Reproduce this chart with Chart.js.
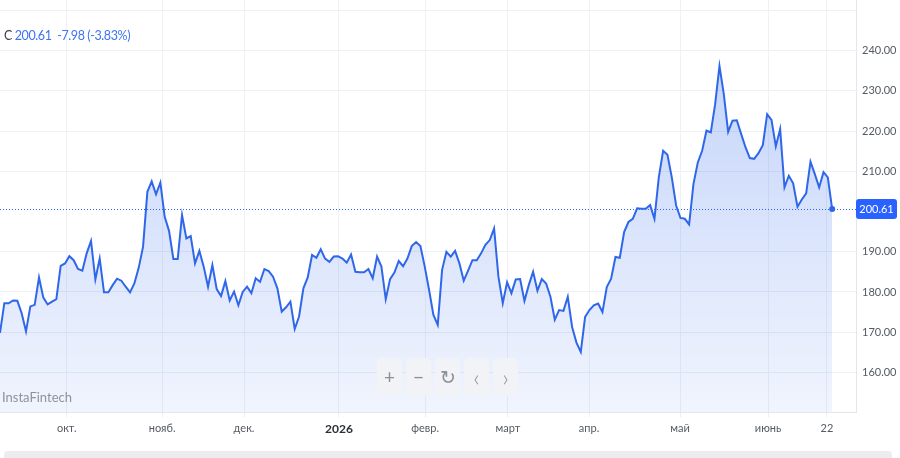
<!DOCTYPE html>
<html>
<head>
<meta charset="utf-8">
<script src="https://cdn.jsdelivr.net/npm/chart.js@4/dist/chart.umd.min.js"></script>
<style>
  html, body { margin: 0; padding: 0; background: #fff; }
  #wrap { position: relative; width: 900px; height: 458px; overflow: hidden; font-family: Lato, "Noto Sans", sans-serif; }
  #c { position: absolute; left: 0; top: 0; }
  #head { position: absolute; left: 4px; top: 28px; font-size: 12.5px; letter-spacing: -0.4px; color: #3a3f4a; white-space: pre; }
  #head span { color: #3d74f0; }
  #mark { position: absolute; left: 2px; top: 389px; font-size: 13px; color: #8d929c; }
  #btns { position: absolute; left: 377px; top: 358px; display: flex; gap: 4px; }
  #btns div { width: 25px; height: 38px; border-radius: 5px; background: #f1f3f6; color: #8a8f98;
              font-size: 19px; line-height: 38px; text-align: center; }
  #btns div.ch { font-size: 24px; font-weight: 300; }
  #foot { position: absolute; left: 4px; top: 451px; width: 888px; height: 10px; border-radius: 4px; background: #ececee; }
</style>
</head>
<body>
<div id="wrap">
  <canvas id="c" width="900" height="458"></canvas>
  <div id="head">C <span>200.61  -7.98 (-3.83%)</span></div>
  <div id="mark">InstaFintech</div>
  <div id="btns"><div>+</div><div>&minus;</div><div>&#8635;</div><div class="ch">&#8249;</div><div class="ch">&#8250;</div></div>
  <div id="foot"></div>
</div>
<script>
// daily closes, one per trading day
var closes = [
  169.8, 177.2, 177.2, 177.9, 177.8, 174.7, 170.2, 176.4, 176.8, 183.6,
  178.6, 176.9, 177.6, 178.2, 186.5, 187.1, 188.9, 187.9, 185.7, 185.3,
  189.6, 192.7, 183.1, 188.3, 179.9, 179.9, 181.7, 183.3, 182.8, 181.3,
  179.9, 182.1, 186.0, 191.2, 204.9, 207.5, 204.3, 207.2, 198.7, 195.2,
  188.2, 188.2, 199.1, 193.3, 193.9, 187.1, 190.2, 186.3, 181.3, 186.7,
  180.7, 179.0, 182.7, 177.9, 180.1, 176.7, 180.0, 181.3, 179.7, 183.4,
  182.5, 185.7, 185.2, 183.8, 180.9, 175.1, 176.2, 177.6, 170.8, 173.9,
  180.9, 183.6, 189.2, 188.5, 190.6, 188.3, 187.5, 188.8, 188.9, 188.3,
  187.3, 189.3, 185.0, 184.9, 184.9, 185.7, 183.4, 188.8, 186.3, 178.2,
  183.2, 184.8, 187.7, 186.4, 188.3, 191.4, 192.4, 191.4, 186.3, 180.5,
  174.3, 171.8, 185.5, 190.0, 188.8, 190.2, 187.1, 182.8, 185.3, 187.9,
  187.9, 189.6, 191.7, 192.9, 195.8, 183.8, 177.2, 182.4, 179.7, 183.1,
  183.2, 177.8, 181.7, 185.0, 180.3, 183.2, 182.1, 178.8, 173.1, 175.5,
  175.3, 178.8, 171.3, 167.4, 165.1, 173.8, 175.5, 176.7, 177.1, 175.0,
  181.2, 183.3, 188.7, 188.5, 194.9, 197.4, 198.2, 200.8, 200.7, 200.7,
  201.6, 198.2, 208.5, 215.1, 214.1, 208.5, 201.5, 198.4, 198.2, 196.8,
  206.9, 212.2, 215.1, 220.1, 219.7, 226.7, 236.2, 229.2, 219.8, 222.6,
  222.7, 219.3, 216.0, 213.3, 213.1, 214.5, 216.5, 224.2, 222.8, 216.2,
  220.5, 206.0, 208.9, 207.0, 201.2, 203.0, 204.5, 212.4, 209.3, 206.0,
  209.8, 208.5, 200.61
];
// x-axis labels and where they fall (trading-day index)
var tickLabels = ['окт.', 'нояб.', 'дек.', '2026', 'февр.', 'март', 'апр.', 'май', 'июнь', '22'];
var tickDays = [15.4, 37.4, 56.3, 78.2, 98.1, 117.2, 135.9, 156.9, 177.2, 190.8];
var priceTicks = [160, 170, 180, 190, 210, 220, 230, 240, 250];

var lastVal = closes[closes.length - 1];
var blue = '#2f67ea';

var lastPricePlugin = {
  id: 'lastPrice',
  afterDatasetsDraw: function(chart) {
    var ctx = chart.ctx, area = chart.chartArea;
    var y = Math.round(chart.scales.y.getPixelForValue(lastVal));
    ctx.save();
    ctx.strokeStyle = '#2962ff';
    ctx.lineWidth = 1;
    ctx.setLineDash([1, 2]);
    ctx.beginPath();
    ctx.moveTo(area.left, y + 0.5);
    ctx.lineTo(area.right, y + 0.5);
    ctx.stroke();
    ctx.setLineDash([]);
    ctx.fillStyle = '#2962ff';
    ctx.beginPath();
    ctx.roundRect(area.right, y - 10, 41, 20, 3);
    ctx.fill();
    ctx.fillStyle = '#fff';
    ctx.font = '11px Lato, "Noto Sans", sans-serif';
    ctx.textAlign = 'center';
    ctx.textBaseline = 'middle';
    ctx.fillText(lastVal.toFixed(2), area.right + 20.5, y + 0.5);
    ctx.restore();
  }
};

var ctx = document.getElementById('c');
var chart = new Chart(ctx, {
  type: 'line',
  data: {
    datasets: [{
      data: closes.map(function(v, i) { return {x: i, y: v}; }),
      borderColor: blue,
      borderWidth: 2,
      tension: 0,
      fill: 'start',
      backgroundColor: function(c) {
        var a = c.chart.chartArea;
        if (!a) return 'rgba(47,103,234,0.15)';
        var g = c.chart.ctx.createLinearGradient(0, a.top + 60, 0, a.bottom);
        g.addColorStop(0, 'rgba(47,103,234,0.28)');
        g.addColorStop(1, 'rgba(47,103,234,0.07)');
        return g;
      },
      pointRadius: function(c) { return c.dataIndex === closes.length - 1 ? 3 : 0; },
      pointBackgroundColor: blue,
      pointBorderWidth: 0
    }]
  },
  options: {
    responsive: false,
    animation: false,
    layout: { padding: 0, autoPadding: false },
    plugins: { legend: { display: false }, tooltip: { enabled: false } },
    scales: {
      x: {
        type: 'linear',
        min: 0,
        max: 197.5,
        afterBuildTicks: function(s) { s.ticks = tickDays.map(function(v) { return {value: v}; }); },
        afterFit: function(s) { s.height = 46; s.paddingLeft = 0; s.paddingRight = 0; },
        grid: { color: '#f0f1f4', tickLength: 5, tickColor: '#eceef2' },
        border: { color: '#e3e6ec' },
        ticks: {
          autoSkip: false,
          maxRotation: 0,
          padding: 5,
          color: function(c) { return c.index === 3 ? '#2b2f36' : '#555a63'; },
          font: function(c) {
            return c.index === 3
              ? { family: 'Lato, "Noto Sans", sans-serif', size: 12, weight: 'bold' }
              : { family: 'Lato, "Noto Sans", sans-serif', size: 11 };
          },
          callback: function(v, i) { return tickLabels[i]; }
        }
      },
      y: {
        position: 'right',
        min: 150.15,
        max: 252.6,
        afterBuildTicks: function(s) { s.ticks = priceTicks.map(function(v) { return {value: v}; }); },
        afterFit: function(s) { s.width = 44; s.paddingTop = 0; s.paddingBottom = 0; },
        grid: { color: '#eef0f3', drawTicks: false },
        border: { color: '#e3e6ec' },
        ticks: {
          padding: 6,
          color: '#555a63',
          font: { family: 'Lato, "Noto Sans", sans-serif', size: 11 },
          callback: function(v) { return v >= 250 ? '' : v.toFixed(2); }
        }
      }
    }
  },
  plugins: [lastPricePlugin]
});
</script>
</body>
</html>
